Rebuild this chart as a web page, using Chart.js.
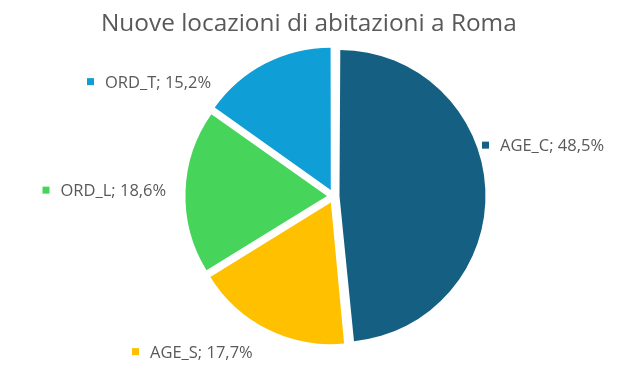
<!DOCTYPE html>
<html>
<head>
<meta charset="utf-8">
<script src="https://cdn.jsdelivr.net/npm/chart.js@4"></script>
<style>
  html, body { margin: 0; padding: 0; background: #ffffff; }
  #wrap { width: 637px; height: 380px; }
</style>
</head>
<body>
<div id="wrap"><canvas id="c" width="637" height="380"></canvas></div>
<script>
// ---- data ----
const titleText = "Nuove locazioni di abitazioni a Roma";
const categories = ["AGE_C", "AGE_S", "ORD_L", "ORD_T"];
const shares = [48.5, 17.7, 18.6, 15.2];

// ---- styles / layout ----
const sliceColors = ["#156082", "#FFC000", "#47D45A", "#0F9ED5"];
const sliceOffsets = [22, 28, 28, 28];           // explosion (Chart.js units)
const textColor = "#595959";
const fontFamily = "'Open Sans', 'Noto Sans', sans-serif";
// label marker centres relative to the pie centre
const labelLayout = [
  { dx: 151.5, dy: -51 },
  { dx: -198.5, dy: 155.5 },
  { dx: -288, dy: -6 },
  { dx: -243.5, dy: -114.5 }
];

function fmt(v) { return v.toFixed(1).replace('.', ',') + '%'; }

const outsideLabels = {
  id: 'outsideLabels',
  afterDraw(chart) {
    const meta = chart.getDatasetMeta(0);
    const arc0 = meta.data[0];
    if (!arc0) return;
    const cx = arc0.x, cy = arc0.y;
    const ctx = chart.ctx;
    ctx.save();
    ctx.font = "16.5px " + fontFamily;
    ctx.textBaseline = 'alphabetic';
    ctx.textAlign = 'left';
    meta.data.forEach((arc, i) => {
      const p = labelLayout[i];
      const x = cx + p.dx, y = cy + p.dy;
      ctx.fillStyle = sliceColors[i];
      ctx.fillRect(x - 3.5, y - 3.5, 7, 7);
      ctx.fillStyle = textColor;
      ctx.fillText(categories[i] + '; ' + fmt(shares[i]), x + 14.5, y + 6);
    });
    ctx.restore();
  }
};

new Chart(document.getElementById('c'), {
  type: 'pie',
  data: {
    labels: categories,
    datasets: [{
      data: shares,
      backgroundColor: sliceColors,
      borderWidth: 0,
      offset: sliceOffsets,
      radius: 141
    }]
  },
  options: {
    responsive: false,
    animation: false,
    layout: { padding: { left: 101, right: 70, top: 0, bottom: 33 } },
    plugins: {
      legend: { display: false },
      tooltip: { enabled: false },
      title: {
        display: true,
        text: titleText,
        align: 'start',
        color: textColor,
        font: { family: fontFamily, size: 24.4, weight: 'normal', lineHeight: 1.2 },
        padding: { top: 9, bottom: 7 }
      }
    }
  },
  plugins: [outsideLabels]
});
</script>
</body>
</html>
